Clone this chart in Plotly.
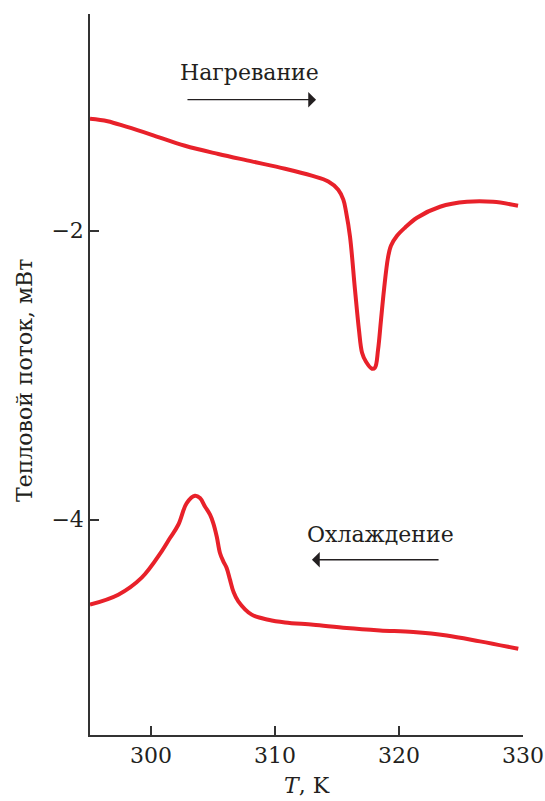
import plotly.graph_objects as go

# Heating curve (Нагревание)
heat_T = [295.08, 296.5, 298.0, 300.06, 302.74, 305.43, 308.12, 310.81, 312.96, 314.30, 315.10,
          315.51, 315.73, 316.05, 316.45, 316.77, 317.02, 317.34, 317.82, 318.06, 318.31,
          318.55, 318.79, 319.11, 319.35, 319.84, 320.48, 321.45, 323.31, 325.48, 327.58, 329.6]
heat_Q = [-1.225, -1.242, -1.280, -1.336, -1.412, -1.469, -1.520, -1.571, -1.619, -1.659, -1.716,
          -1.785, -1.869, -2.042, -2.408, -2.685, -2.844, -2.907, -2.955, -2.948, -2.824,
          -2.616, -2.408, -2.187, -2.104, -2.035, -1.979, -1.910, -1.834, -1.800, -1.800, -1.827]

# Cooling curve (Охлаждение)
cool_T = [295.08, 297.36, 299.25, 300.86, 301.53, 302.2, 302.88, 303.55, 303.95, 304.35,
          304.76, 305.02, 305.3, 305.56, 305.83, 306.1, 306.37, 306.64, 307.04, 308.12,
          309.46, 310.81, 313.09, 315.78, 318.47, 321.15, 323.85, 326.53, 329.62]
cool_Q = [-4.588, -4.519, -4.401, -4.219, -4.127, -4.035, -3.885, -3.834, -3.850, -3.908,
          -3.965, -4.023, -4.116, -4.230, -4.288, -4.334, -4.415, -4.496, -4.565, -4.657,
          -4.692, -4.711, -4.727, -4.750, -4.766, -4.777, -4.801, -4.842, -4.893]

x_ticks = [300, 310, 320, 330]
y_ticks = [-4, -2]

RED = "#e8212a"
FONT = "DejaVu Serif"
TXT = "#231f20"

fig = go.Figure()
for xs, ys in [(heat_T, heat_Q), (cool_T, cool_Q)]:
    fig.add_trace(go.Scatter(x=xs, y=ys, mode="lines",
                             line=dict(color=RED, width=4, shape="spline", smoothing=1.0),
                             showlegend=False, hoverinfo="skip"))

fig.update_layout(
    width=545, height=801,
    margin=dict(l=90, r=22, t=14, b=66),
    paper_bgcolor="white", plot_bgcolor="white",
    font=dict(family=FONT, size=25, color=TXT),
)
fig.update_xaxes(range=[295.08, 330], tickvals=x_ticks, ticks="inside", ticklen=9,
                 tickwidth=1.5, tickcolor="#333", showline=True, linecolor="#333",
                 linewidth=1.5, showgrid=False, zeroline=False, automargin=False,
                 tickfont=dict(family=FONT, size=22, color=TXT))
fig.update_yaxes(range=[-5.49, -0.5], tickvals=y_ticks, ticktext=["\u22124", "\u22122"],
                 ticks="inside", ticklen=9, tickwidth=1.5, tickcolor="#333",
                 showline=True, linecolor="#333", linewidth=1.5, showgrid=False,
                 zeroline=False, automargin=False,
                 tickfont=dict(family=FONT, size=22, color=TXT))

# Axis titles
fig.add_annotation(text="<i>T</i>, K", xref="paper", yref="paper", x=0.5, y=-0.07,
                   xanchor="center", yanchor="middle", showarrow=False,
                   font=dict(family=FONT, size=22, color=TXT))
fig.add_annotation(text="Тепловой поток, мВт", xref="paper", yref="paper", x=-0.15, y=0.491,
                   xanchor="center", yanchor="middle", textangle=-90, showarrow=False,
                   font=dict(family=FONT, size=22, color=TXT))

# Labels with arrows
fig.add_annotation(text="Нагревание", x=307.98, y=-0.907, showarrow=False,
                   font=dict(family=FONT, size=22, color=TXT))
fig.add_annotation(x=313.31, y=-1.093, ax=302.82, ay=-1.093, axref="x", ayref="y",
                   text="", showarrow=True, arrowhead=1, arrowsize=2, arrowwidth=1.3,
                   arrowcolor=TXT)
fig.add_annotation(text="Охлаждение", x=318.47, y=-4.104, showarrow=False,
                   font=dict(family=FONT, size=22, color=TXT))
fig.add_annotation(x=312.98, y=-4.277, ax=323.31, ay=-4.277, axref="x", ayref="y",
                   text="", showarrow=True, arrowhead=1, arrowsize=2, arrowwidth=1.3,
                   arrowcolor=TXT)

fig.write_html("out.html")
